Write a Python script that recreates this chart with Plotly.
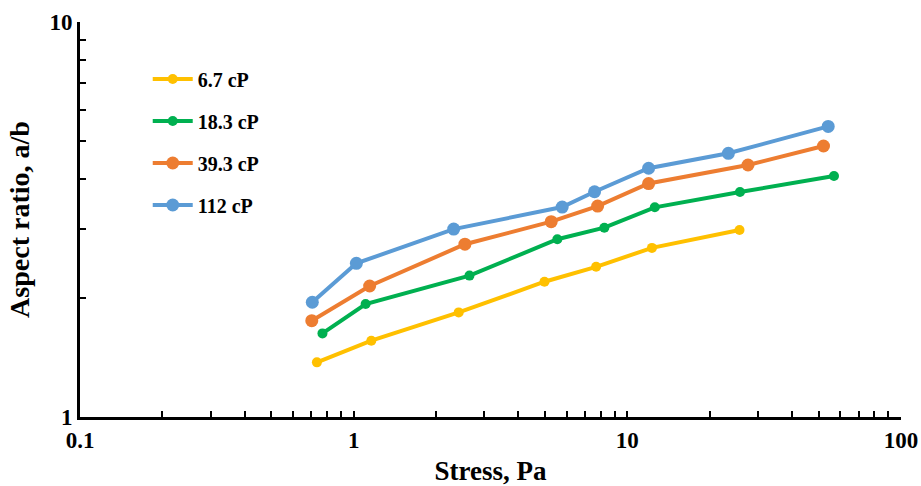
import plotly.graph_objects as go

# Data (log-log chart)
stress_67 = [0.734, 1.16, 2.42, 4.98, 7.69, 12.3, 25.7]
ratio_67 = [1.375, 1.56, 1.84, 2.20, 2.40, 2.68, 2.975]

stress_183 = [0.769, 1.106, 2.65, 5.55, 8.24, 12.6, 25.8, 56.9]
ratio_183 = [1.628, 1.932, 2.28, 2.818, 3.015, 3.395, 3.712, 4.075]

stress_393 = [0.703, 1.144, 2.55, 5.27, 7.79, 11.96, 27.6, 52.1]
ratio_393 = [1.753, 2.146, 2.738, 3.122, 3.42, 3.90, 4.345, 4.854]

stress_112 = [0.706, 1.023, 2.32, 5.78, 7.59, 11.96, 23.4, 54.2]
ratio_112 = [1.952, 2.449, 2.99, 3.40, 3.717, 4.263, 4.652, 5.44]

series_names = ["6.7 cP", "18.3 cP", "39.3 cP", "112 cP"]
x_ticks = [0.1, 1, 10, 100]
x_tick_text = ["0.1", "1", "10", "100"]
y_ticks = [1, 10]
y_tick_text = ["1", "10"]

x_minor = [m * d for d in (0.1, 1, 10) for m in range(2, 10)]
y_minor = list(range(2, 10))

FONT = "Liberation Serif"
colors = ["#FFC000", "#00B050", "#ED7D31", "#5B9BD5"]
msizes = [10, 10, 13, 13]

fig = go.Figure()
for i, (xs, ys) in enumerate([(stress_67, ratio_67), (stress_183, ratio_183),
                              (stress_393, ratio_393), (stress_112, ratio_112)]):
    fig.add_trace(go.Scatter(
        x=xs, y=ys, mode="lines+markers", name=series_names[i],
        legendgroup=str(i),
        line=dict(color=colors[i], width=4),
        marker=dict(color=colors[i], size=msizes[i]),
    ))

axis_font = dict(family=FONT, size=23, color="black", weight="bold")
title_font = dict(family=FONT, size=27, color="black", weight="bold")

fig.update_layout(
    width=921, height=486,
    margin=dict(l=80, r=20, t=22, b=69),
    paper_bgcolor="white", plot_bgcolor="white",
    font=dict(family=FONT, color="black"),
    showlegend=True,
    legend=dict(
        x=0.0825, y=0.905, xanchor="left", yanchor="top",
        font=dict(family=FONT, size=20, color="black", weight="bold"),
        bgcolor="rgba(0,0,0,0)",
        traceorder="grouped", tracegroupgap=13,
        itemwidth=40,
    ),
    xaxis=dict(
        type="log", range=[-1, 2], automargin=False,
        tickmode="array", tickvals=x_ticks, ticktext=x_tick_text,
        ticks="inside", ticklen=6, tickwidth=2, tickcolor="black",
        showline=True, linecolor="black", linewidth=3,
        showgrid=False, zeroline=False,
        tickfont=axis_font,
        minor=dict(tickmode="array", tickvals=x_minor, ticks="inside",
                   ticklen=6, tickwidth=2, tickcolor="black", showgrid=False),
        title=dict(text="Stress, Pa", font=title_font, standoff=10),
    ),
    yaxis=dict(
        type="log", range=[0, 1], automargin=False,
        tickmode="array", tickvals=y_ticks, ticktext=y_tick_text,
        ticks="inside", ticklen=6, tickwidth=2, tickcolor="black",
        showline=True, linecolor="black", linewidth=3,
        showgrid=False, zeroline=False,
        tickfont=axis_font,
        minor=dict(tickmode="array", tickvals=y_minor, ticks="inside",
                   ticklen=6, tickwidth=2, tickcolor="black", showgrid=False),
        title=dict(text="Aspect ratio, a/b", font=dict(family=FONT, size=28, color="black", weight="bold"),
                   standoff=12),
    ),
)

fig.write_html("out.html")
